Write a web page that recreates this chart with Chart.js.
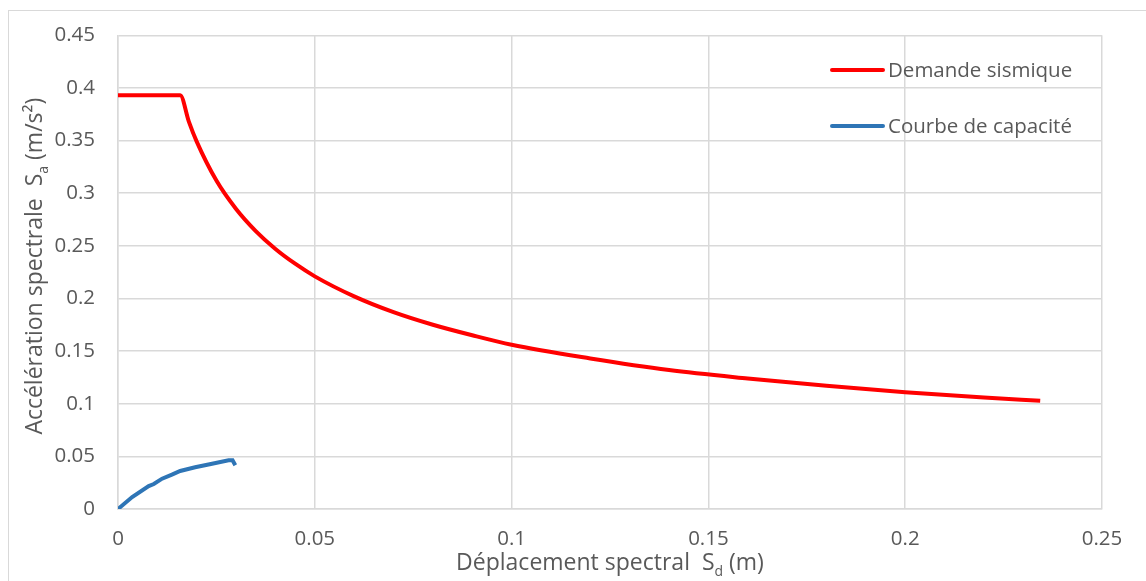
<!DOCTYPE html>
<html>
<head>
<meta charset="utf-8">
<script src="https://cdn.jsdelivr.net/npm/chart.js@4/dist/chart.umd.min.js"></script>
<style>
  html, body { margin: 0; padding: 0; background: #fff; }
  #wrap { width: 1146px; height: 581px; position: relative; }
</style>
</head>
<body>
<div id="wrap"><canvas id="spectreChart"></canvas></div>
<script>
// demande sismique (spectre en format ADRS)
const demandeSd = [0, 0.0158, 0.018, 0.02, 0.025, 0.03, 0.035, 0.04, 0.045, 0.05, 0.06, 0.07, 0.08, 0.09, 0.1, 0.12, 0.14, 0.16, 0.18, 0.2, 0.22, 0.2343];
const demandeSa = [0.393, 0.393, 0.368, 0.349, 0.312, 0.285, 0.264, 0.247, 0.233, 0.221, 0.202, 0.187, 0.175, 0.165, 0.156, 0.143, 0.132, 0.124, 0.117, 0.111, 0.106, 0.1028];

// courbe de capacité
const capaciteSd = [0, 0.0036, 0.0078, 0.0091, 0.0112, 0.0137, 0.0158, 0.0196, 0.0239, 0.0281, 0.0291, 0.0298];
const capaciteSa = [0, 0.0114, 0.0218, 0.0237, 0.0288, 0.0326, 0.0361, 0.0396, 0.043, 0.0462, 0.0462, 0.0415];

const xTicks = [0, 0.05, 0.1, 0.15, 0.2, 0.25];
const yTicks = [0, 0.05, 0.1, 0.15, 0.2, 0.25, 0.3, 0.35, 0.4, 0.45];

const serieNames = ['Demande sismique', 'Courbe de capacité'];
const serieColors = ['#ff0000', '#2e75b6'];

const FONT = '"Open Sans", "Liberation Sans", sans-serif';
const GREY = '#595959';

function toPoints(xs, ys) {
    return xs.map((x, i) => ({ x: x, y: ys[i] }));
}

// cadre, titres d'axes (avec indices) et légende dans la zone de tracé
const decorPlugin = {
    id: 'decor',
    beforeDraw(chart) {
        const ctx = chart.ctx;
        ctx.save();
        ctx.fillStyle = '#fff';
        ctx.fillRect(0, 0, chart.width, chart.height);
        ctx.strokeStyle = '#d9d9d9';
        ctx.lineWidth = 1;
        ctx.strokeRect(8.5, 10.5, 1200, 700);
        ctx.restore();
    },
    afterDraw(chart) {
        const ctx = chart.ctx;
        const area = chart.chartArea;
        ctx.save();
        ctx.fillStyle = GREY;
        ctx.textBaseline = 'alphabetic';

        const measure = (main, sub, tail, size) => {
            const big = size + 'px ' + FONT;
            const small = Math.round(size * 0.62) + 'px ' + FONT;
            ctx.font = big;
            const w1 = ctx.measureText(main).width;
            const w3 = ctx.measureText(tail).width;
            ctx.font = small;
            const w2 = ctx.measureText(sub).width;
            return { w: w1 + w2 + w3, w1, w2, big, small };
        };

        // titre axe x
        let t = measure('Déplacement spectral  S', 'd', ' (m)', 23);
        let x0 = (area.left + area.right) / 2 - t.w / 2;
        const yb = 570;
        ctx.font = t.big;
        ctx.fillText('Déplacement spectral  S', x0, yb);
        ctx.font = t.small;
        ctx.fillText('d', x0 + t.w1, yb + 6);
        ctx.font = t.big;
        ctx.fillText(' (m)', x0 + t.w1 + t.w2, yb);

        // titre axe y (rotation)
        t = measure('Accélération spectrale  S', 'a', ' (m/s²)', 23);
        ctx.translate(42, (area.top + area.bottom) / 2 - 6);
        ctx.rotate(-Math.PI / 2);
        x0 = -t.w / 2;
        ctx.font = t.big;
        ctx.fillText('Accélération spectrale  S', x0, 0);
        ctx.font = t.small;
        ctx.fillText('a', x0 + t.w1, 6);
        ctx.font = t.big;
        ctx.fillText(' (m/s²)', x0 + t.w1 + t.w2, 0);
        ctx.setTransform(1, 0, 0, 1, 0, 0);

        // légende
        const legY = [70, 126];
        ctx.font = '20.5px ' + FONT;
        ctx.textBaseline = 'middle';
        chart.data.datasets.forEach((ds, i) => {
            ctx.strokeStyle = ds.borderColor;
            ctx.lineWidth = 4;
            ctx.lineCap = 'round';
            ctx.beginPath();
            ctx.moveTo(832, legY[i]);
            ctx.lineTo(883, legY[i]);
            ctx.stroke();
            ctx.fillStyle = GREY;
            ctx.fillText(ds.label, 888, legY[i] + 1);
        });
        ctx.restore();
    }
};

const ctx = document.getElementById('spectreChart').getContext('2d');
const spectreChart = new Chart(ctx, {
    type: 'scatter',
    data: {
        datasets: [{
            label: serieNames[0],
            data: toPoints(demandeSd, demandeSa),
            borderColor: serieColors[0],
            backgroundColor: serieColors[0],
            showLine: true,
            pointRadius: 0,
            borderWidth: 4,
            cubicInterpolationMode: 'monotone'
        }, {
            label: serieNames[1],
            data: toPoints(capaciteSd, capaciteSa),
            borderColor: serieColors[1],
            backgroundColor: serieColors[1],
            showLine: true,
            pointRadius: 0,
            borderWidth: 4
        }]
    },
    options: {
        responsive: true,
        maintainAspectRatio: false,
        animation: false,
        layout: { padding: { left: 0, top: 35, right: 44, bottom: 0 } },
        plugins: {
            legend: { display: false },
            tooltip: { enabled: false }
        },
        scales: {
            x: {
                type: 'linear',
                min: 0,
                max: 0.25,
                afterBuildTicks: (scale) => { scale.ticks = xTicks.map(v => ({ value: v })); },
                afterFit: (scale) => { scale.height = 72; },
                grid: { color: '#d9d9d9', lineWidth: 1.5, drawTicks: false },
                border: { color: '#d9d9d9', width: 1.5 },
                ticks: {
                    color: GREY,
                    font: { family: FONT, size: 20.5 },
                    padding: 18,
                    maxRotation: 0,
                    callback: (v) => String(+v.toFixed(2))
                }
            },
            y: {
                type: 'linear',
                min: 0,
                max: 0.45,
                afterBuildTicks: (scale) => { scale.ticks = yTicks.map(v => ({ value: v })); },
                afterFit: (scale) => { scale.width = 118; },
                grid: { color: '#d9d9d9', lineWidth: 1.5, drawTicks: false },
                border: { color: '#d9d9d9', width: 1.5 },
                ticks: {
                    color: GREY,
                    font: { family: FONT, size: 20.5 },
                    padding: 23,
                    callback: (v) => String(+v.toFixed(2))
                }
            }
        }
    },
    plugins: [decorPlugin]
});
</script>
</body>
</html>
